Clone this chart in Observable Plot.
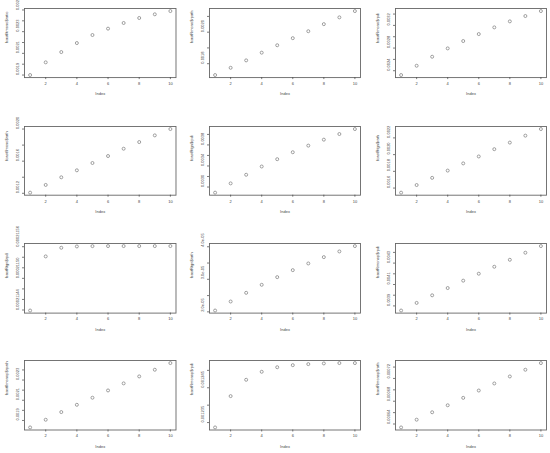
<!DOCTYPE html>
<html>
<head>
<meta charset="utf-8">
<script src="https://cdn.jsdelivr.net/npm/d3@7"></script>
<script src="https://cdn.jsdelivr.net/npm/@observablehq/plot@0.6"></script>
<style>
  html, body { margin: 0; padding: 0; background: #fff; }
  #root { position: relative; width: 550px; height: 453px; overflow: hidden; background: #fff; }
  #root > div { position: absolute; }
  svg { overflow: visible; }
</style>
</head>
<body>
<div id="root"></div>
<script>
// ---------- data ----------
const index = [1, 2, 3, 4, 5, 6, 7, 8, 9, 10];
const xTicks = [2, 4, 6, 8, 10];

const titles = [
  "fcastfltmono$ratio", "fcastRmono$rpath", "fcastRmono$rpdi",
  "fcastflmono$rath", "fcastRtgn$rpdi", "fcastRtgn$rath",
  "fcastRtgn$rpdi", "fcastRtgn$rath", "fcastRmonop$rpdi",
  "fcastflmonop$rpath", "fcastRmonop$rpdi", "fcastRmonop$rath"
];

const values1  = [0.00190, 0.002017, 0.002112, 0.002195, 0.002269, 0.002328, 0.00238, 0.002426, 0.00246, 0.00249];
const values2  = [0.001728, 0.001774, 0.001821, 0.00187, 0.001917, 0.001962, 0.002006, 0.002051, 0.002094, 0.002134];
const values3  = [0.002324, 0.002488, 0.002647, 0.002794, 0.002924, 0.003047, 0.003165, 0.003271, 0.003365, 0.003453];
const values4  = [0.001208, 0.001304, 0.001399, 0.001486, 0.001577, 0.001664, 0.001755, 0.001838, 0.001921, 0.002000];
const values5  = [0.002893, 0.003069, 0.003233, 0.00339, 0.003529, 0.003661, 0.003787, 0.0039, 0.004007, 0.004102];
const values6  = [0.001545, 0.001636, 0.001722, 0.001809, 0.001895, 0.001978, 0.002065, 0.002144, 0.002227, 0.002306];
const values7  = [0.000211439, 0.0002115416, 0.000211558, 0.0002115605, 0.0002115611, 0.0002115612, 0.0002115612, 0.0002115612, 0.0002115612, 0.0002115612];
const values8  = [2.041e-5, 2.318e-5, 2.585e-5, 2.831e-5, 3.067e-5, 3.282e-5, 3.487e-5, 3.682e-5, 3.856e-5, 4.021e-5];
const values9  = [0.003857, 0.003928, 0.003999, 0.004067, 0.004136, 0.004201, 0.004266, 0.004331, 0.004397, 0.004459];
const values10 = [0.001831, 0.001907, 0.001983, 0.002055, 0.002125, 0.002197, 0.002267, 0.002336, 0.002402, 0.002468];
const values11 = [0.0012336, 0.0012426, 0.0012473, 0.0012496, 0.0012509, 0.0012515, 0.0012518, 0.001252, 0.0012521, 0.0012521];
const values12 = [0.000634, 0.0006476, 0.0006606, 0.0006729, 0.0006859, 0.0006988, 0.0007112, 0.0007235, 0.0007353, 0.000747];

const ticks1  = [0.0019, 0.0020, 0.0021, 0.0022, 0.0023, 0.0024, 0.0025];
const ticks2  = [0.0018, 0.0019, 0.0020, 0.0021];
const ticks3  = [0.0024, 0.0026, 0.0028, 0.0030, 0.0032, 0.0034];
const ticks4  = [0.0012, 0.0014, 0.0016, 0.0018, 0.0020];
const ticks5  = [0.0030, 0.0032, 0.0034, 0.0036, 0.0038, 0.0040];
const ticks6  = [0.0016, 0.0018, 0.0020, 0.0022];
const ticks7  = [0.00021144, 0.00021146, 0.00021148, 0.00021150, 0.00021152, 0.00021154, 0.00021156];
const ticks8  = [2.0e-5, 2.5e-5, 3.0e-5, 3.5e-5, 4.0e-5];
const ticks9  = [0.0039, 0.0040, 0.0041, 0.0042, 0.0043, 0.0044];
const ticks10 = [0.0019, 0.0020, 0.0021, 0.0022, 0.0023, 0.0024];
const ticks11 = [0.001235, 0.00124, 0.001245, 0.00125];
const ticks12 = [0.00064, 0.00066, 0.00068, 0.00070, 0.00072, 0.00074];

const labels1  = ["0.0019", "0.0021", "0.0023", "0.0025"];
const labels2  = ["0.0018", "0.0020"];
const labels3  = ["0.0024", "0.0028", "0.0032"];
const labels4  = ["0.0012", "0.0016", "0.0020"];
const labels5  = ["0.0030", "0.0034", "0.0038"];
const labels6  = ["0.0016", "0.0018", "0.0020", "0.0022"];
const labels7  = ["0.00021144", "0.00021150", "0.00021156"];
const labels8  = ["2.0e-05", "3.0e-05", "4.0e-05"];
const labels9  = ["0.0039", "0.0041", "0.0043"];
const labels10 = ["0.0019", "0.0021", "0.0023"];
const labels11 = ["0.001235", "0.001245"];
const labels12 = ["0.00064", "0.00068", "0.00072"];

const allValues = [values1, values2, values3, values4, values5, values6, values7, values8, values9, values10, values11, values12];
const allTicks  = [ticks1, ticks2, ticks3, ticks4, ticks5, ticks6, ticks7, ticks8, ticks9, ticks10, ticks11, ticks12];
const allLabels = [labels1, labels2, labels3, labels4, labels5, labels6, labels7, labels8, labels9, labels10, labels11, labels12];

// ---------- layout ----------
const colLeft = [23.5, 209, 395], colRight = [175, 360, 546];
const rowTop = [7.8, 125.5, 242.7, 360.4], rowBottom = [76.9, 194.2, 312.3, 429.9];
const ML = 26, MT = 6, MR = 4, MB = 24;

const root = document.getElementById("root");

allValues.forEach((vals, i) => {
  const r = Math.floor(i / 3), c = i % 3;
  const data = index.map((x, j) => ({x, y: vals[j]}));
  const lo = d3.min(vals), hi = d3.max(vals), span = hi - lo;
  const w = colRight[c] - colLeft[c], h = rowBottom[r] - rowTop[r];
  const chart = Plot.plot({
    width: w + ML + MR,
    height: h + MT + MB,
    marginLeft: ML, marginTop: MT, marginRight: MR, marginBottom: MB,
    style: {fontFamily: "Liberation Sans, Arial, sans-serif", fontSize: "4px", color: "#444", background: "transparent"},
    x: {domain: [0.64, 10.36]},
    y: {domain: [lo - 0.04 * span, hi + 0.04 * span]},
    marks: [
      Plot.frame({stroke: "#666", strokeWidth: 0.9}),
      Plot.axisX({ticks: xTicks, tickSize: 2, tickPadding: 2.5, label: null, strokeWidth: 0.7}),
      Plot.axisY({ticks: allTicks[i], tickSize: 2, tickFormat: () => "", label: null, strokeWidth: 0.7}),
      Plot.text(allLabels[i], {y: d => +d, text: d => d, frameAnchor: "left", dx: -6.5, rotate: -90, fill: "#444"}),
      Plot.text(["Index"], {frameAnchor: "bottom", dy: 17.5, fill: "#444"}),
      Plot.text([titles[i]], {frameAnchor: "left", dx: -18, rotate: -90, fill: "#444"}),
      Plot.dot(data, {x: "x", y: "y", r: 1.5, stroke: "#888", strokeWidth: 0.8, fill: "none"})
    ]
  });
  const holder = document.createElement("div");
  holder.style.left = (colLeft[c] - ML) + "px";
  holder.style.top = (rowTop[r] - MT) + "px";
  holder.appendChild(chart);
  root.appendChild(holder);
});
</script>
</body>
</html>
